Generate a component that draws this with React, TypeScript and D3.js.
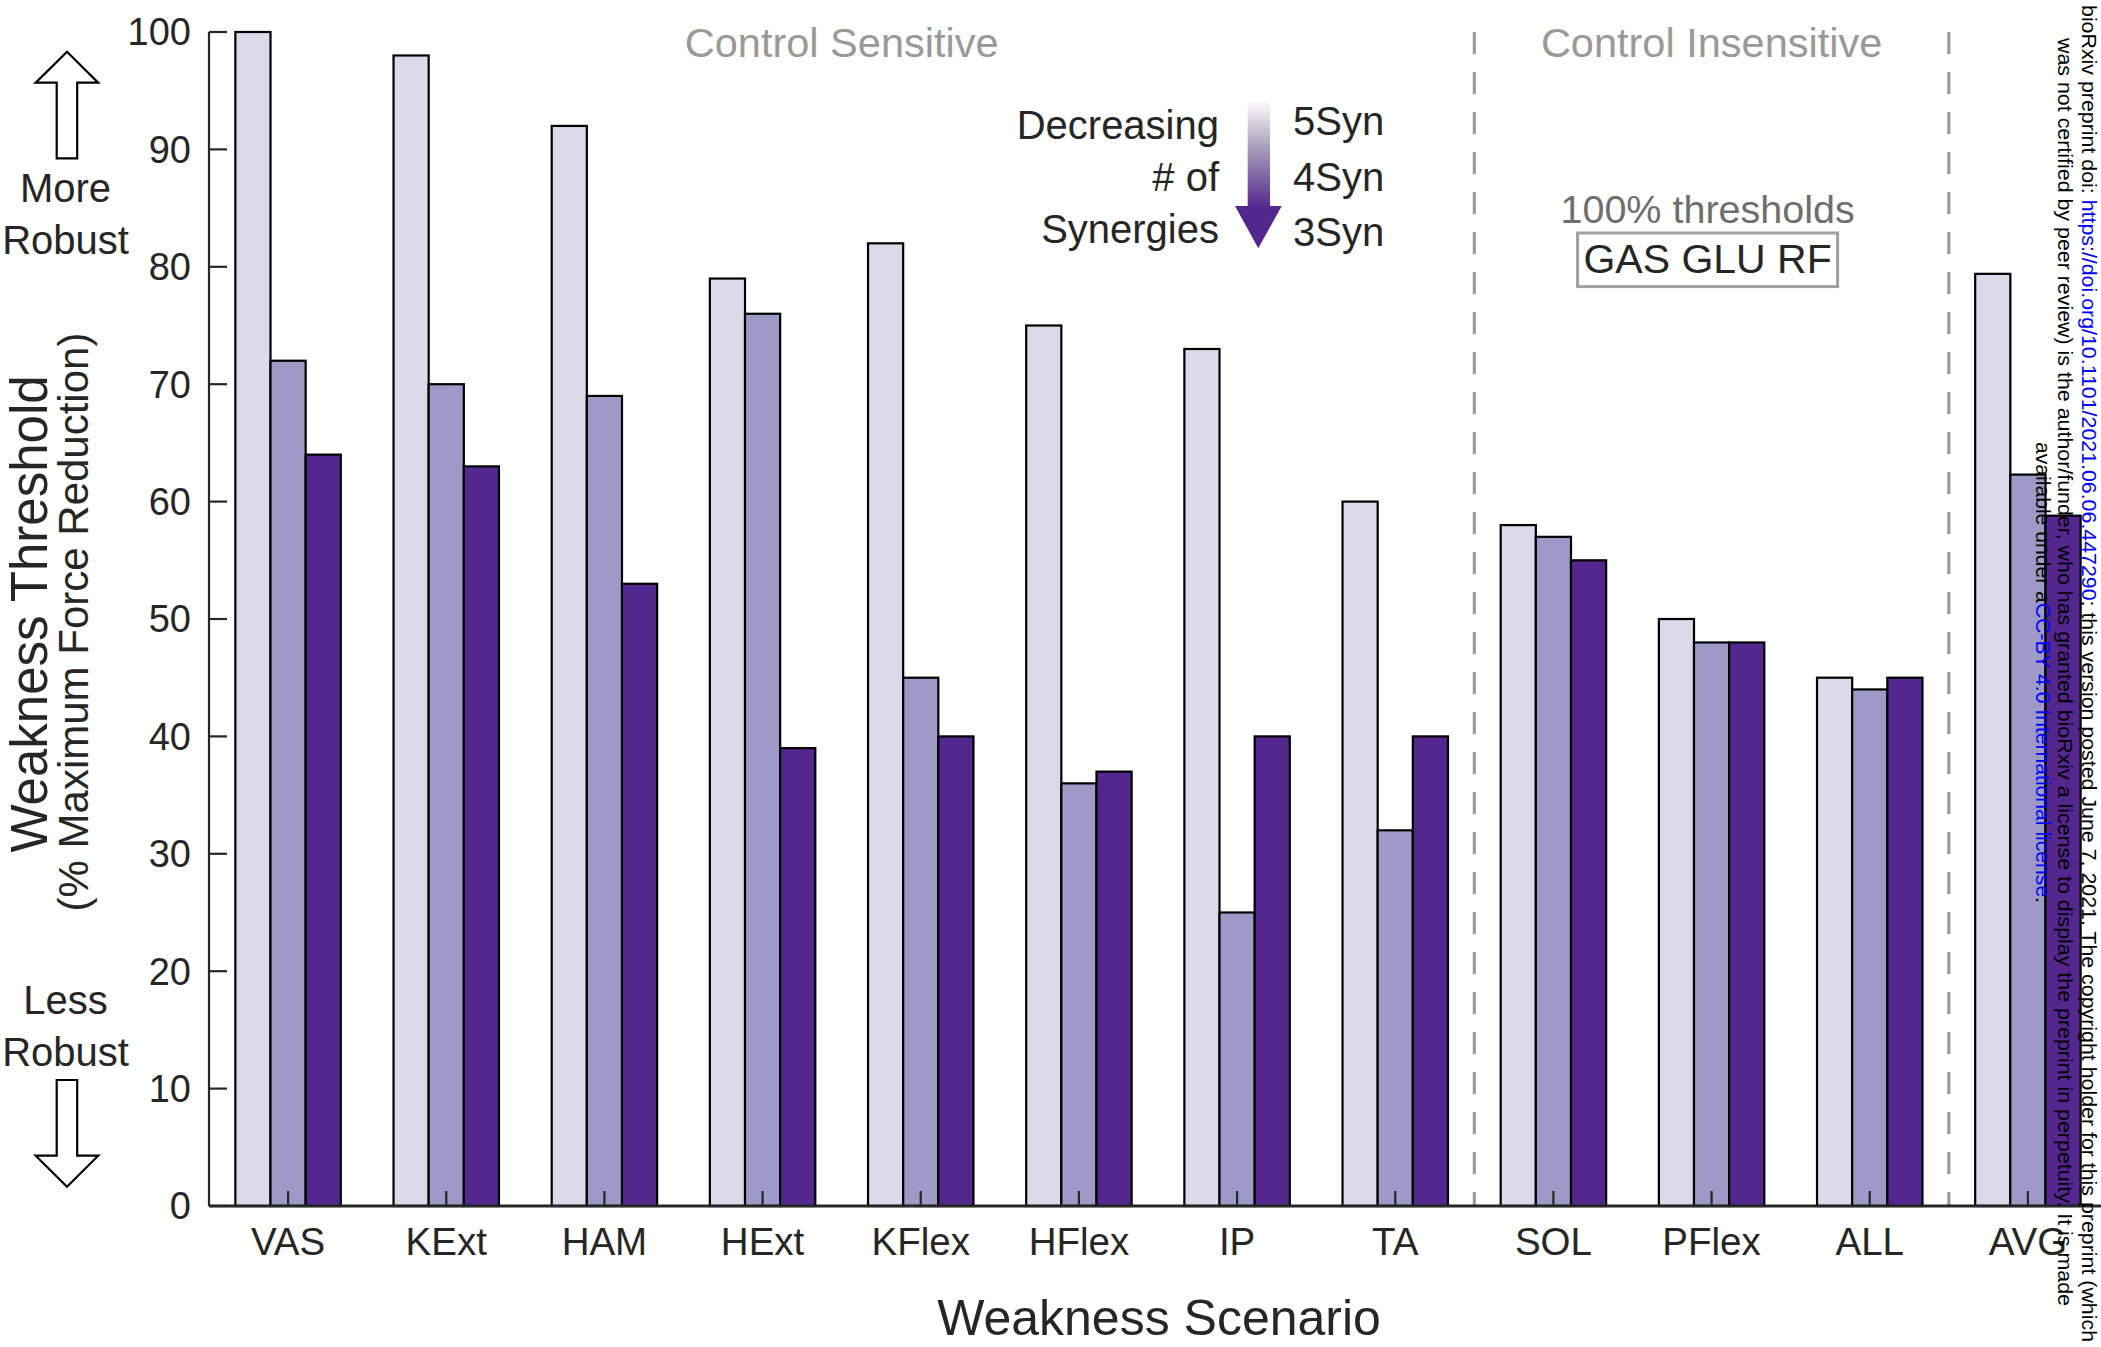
import React from "react";
import * as d3 from "d3";

const categories = ["VAS", "KExt", "HAM", "HExt", "KFlex", "HFlex", "IP", "TA", "SOL", "PFlex", "ALL", "AVG"];
const seriesNames = ["5Syn", "4Syn", "3Syn"];
const syn5 = [100, 98, 92, 79, 82, 75, 73, 60, 58, 50, 45, 79.4];
const syn4 = [72, 70, 69, 76, 45, 36, 25, 32, 57, 48, 44, 62.3];
const syn3 = [64, 63, 53, 39, 40, 37, 40, 40, 55, 48, 45, 58.8];
const yTicks = [0, 10, 20, 30, 40, 50, 60, 70, 80, 90, 100];
const seriesColors = ["#dadaeb", "#9e9ac8", "#54278f"];
const groupLabels = ["Control Sensitive", "Control Insensitive"];
const legendLeft = ["Decreasing", "# of", "Synergies"];
const wm1 = ["bioRxiv preprint doi: ", "https://doi.org/10.1101/2021.06.06.447290", "; this version posted June 7, 2021. The copyright holder for this preprint (which"];
const wm2 = "was not certified by peer review) is the author/funder, who has granted bioRxiv a license to display the preprint in perpetuity. It is made";
const wm3 = ["available under a", "CC-BY 4.0 International license", "."];

const W = 2101;
const H = 1347;
const FONT = "'Liberation Sans', Arial, Helvetica, sans-serif";
const TXT = "#262626";

export default function App() {
  const left = 209;
  const right = 2107;
  const top = 32;
  const bottom = 1206;

  const x = d3.scaleBand<string>().domain(categories).range([left, right]).padding(0);
  const y = d3.scaleLinear().domain([0, 100]).range([bottom, top]);
  const step = x.step();
  const groupW = step * (2 / 3);
  const inner = d3.scaleBand<string>().domain(seriesNames).range([-groupW / 2, groupW / 2]).padding(0);
  const values = [syn5, syn4, syn3];

  const cx = (c: string) => (x(c) as number) + step / 2;
  const dash1 = x("SOL") as number;
  const dash2 = x("AVG") as number;
  const sensCenter = (left + dash1) / 2;
  const insensCenter = (dash1 + dash2) / 2;

  return (
    <svg width={W} height={H} style={{ position: "absolute", left: 0, top: 0, background: "#fff" }} fontFamily={FONT}>
      <defs>
        <linearGradient id="shaftGrad" gradientUnits="userSpaceOnUse" x1="0" y1="100" x2="0" y2="208">
          <stop offset="0" stopColor="#ffffff" />
          <stop offset="0.45" stopColor="#a89cb8" />
          <stop offset="1" stopColor="#54278f" />
        </linearGradient>
      </defs>
      <rect x={0} y={0} width={W} height={H} fill="#fff" />

      {/* dashed separators */}
      {[dash1, dash2].map((dx, i) => (
        <line key={i} x1={dx} x2={dx} y1={y(100)} y2={y(0)} stroke="#9a9a9a" strokeWidth={3.2} strokeDasharray="22 18" />
      ))}

      {/* bars */}
      {categories.map((c, ci) =>
        seriesNames.map((s, si) => {
          const v = values[si][ci];
          return (
            <rect
              key={c + s}
              x={cx(c) + (inner(s) as number)}
              y={y(v)}
              width={inner.bandwidth()}
              height={y(0) - y(v)}
              fill={seriesColors[si]}
              stroke="#000"
              strokeWidth={2.2}
            />
          );
        })
      )}

      {/* axes */}
      <line x1={left} x2={left} y1={y(100)} y2={y(0)} stroke={TXT} strokeWidth={2.2} />
      <line x1={left} x2={W + 10} y1={y(0)} y2={y(0)} stroke={TXT} strokeWidth={3} />
      {yTicks.map((t) => (
        <g key={t}>
          <line x1={left} x2={left + 18} y1={y(t)} y2={y(t)} stroke={TXT} strokeWidth={2.2} />
          <text x={left - 18} y={y(t)} dy="0.35em" textAnchor="end" fontSize={38} fill={TXT}>
            {t}
          </text>
        </g>
      ))}
      {categories.map((c) => (
        <g key={c}>
          <line x1={cx(c)} x2={cx(c)} y1={y(0)} y2={y(0) - 15} stroke={TXT} strokeWidth={2.2} />
          <text x={cx(c)} y={1255} textAnchor="middle" fontSize={38.5} fill={TXT}>
            {c}
          </text>
        </g>
      ))}

      {/* axis titles */}
      <text x={1159} y={1335} textAnchor="middle" fontSize={50} fill={TXT}>
        Weakness Scenario
      </text>
      <text transform="translate(46.5,614) rotate(-90)" textAnchor="middle" fontSize={51} fill={TXT}>
        Weakness Threshold
      </text>
      <text transform="translate(88,622) rotate(-90)" textAnchor="middle" fontSize={42} fill={TXT}>
        (% Maximum Force Reduction)
      </text>

      {/* robustness arrows */}
      <path d="M67,51.7 L98.2,82.7 L77.2,82.7 L77.2,158.3 L56.7,158.3 L56.7,82.7 L35.7,82.7 Z" fill="#fff" stroke="#000" strokeWidth={2.2} />
      <text x={65.5} y={202} textAnchor="middle" fontSize={40} fill={TXT}>More</text>
      <text x={65.5} y={254} textAnchor="middle" fontSize={40} fill={TXT}>Robust</text>
      <text x={65.5} y={1014} textAnchor="middle" fontSize={40} fill={TXT}>Less</text>
      <text x={65.5} y={1066} textAnchor="middle" fontSize={40} fill={TXT}>Robust</text>
      <path d="M67,1186.7 L98.2,1155.7 L77.2,1155.7 L77.2,1080 L56.7,1080 L56.7,1155.7 L35.7,1155.7 Z" fill="#fff" stroke="#000" strokeWidth={2.2} />

      {/* region labels */}
      <text x={sensCenter} y={56.7} textAnchor="middle" fontSize={41.5} fill="#999999">{groupLabels[0]}</text>
      <text x={insensCenter} y={57} textAnchor="middle" fontSize={41.5} fill="#999999">{groupLabels[1]}</text>
      <text x={insensCenter - 4} y={223} textAnchor="middle" fontSize={39.5} fill="#6e6e6e">100% thresholds</text>
      <rect x={insensCenter - 4 - 130} y={233} width={260} height={53.6} fill="none" stroke="#a0a0a0" strokeWidth={3} />
      <text x={insensCenter - 4} y={273} textAnchor="middle" fontSize={41} fill={TXT}>GAS GLU RF</text>

      {/* legend */}
      {legendLeft.map((t, i) => (
        <text key={t} x={1219} y={139 + i * 52} textAnchor="end" fontSize={40} fill={TXT}>{t}</text>
      ))}
      {seriesNames.map((s, i) => (
        <text key={s} x={1293} y={135 + i * 55.5} textAnchor="start" fontSize={40} fill={TXT}>{s}</text>
      ))}
      <rect x={1247.7} y={100} width={22.3} height={107} fill="url(#shaftGrad)" />
      <path d="M1235,206 L1281.7,206 L1258.3,248.3 Z" fill="#54278f" />

      {/* watermark */}
      <text transform="translate(2082,673.5) rotate(90)" textAnchor="middle" fontSize={20} fill="#000" textLength={1337} lengthAdjust="spacingAndGlyphs">
        <tspan>{wm1[0]}</tspan>
        <tspan fill="#0000ff">{wm1[1]}</tspan>
        <tspan>{wm1[2]}</tspan>
      </text>
      <text transform="translate(2058,672) rotate(90)" textAnchor="middle" fontSize={20} fill="#000" textLength={1268} lengthAdjust="spacingAndGlyphs">
        {wm2}
      </text>
      <text transform="translate(2036,672.5) rotate(90)" textAnchor="middle" fontSize={20} fill="#000" textLength={461} lengthAdjust="spacingAndGlyphs">
        <tspan>{wm3[0]}</tspan>
        <tspan fill="#0000ff">{wm3[1]}</tspan>
        <tspan>{wm3[2]}</tspan>
      </text>
    </svg>
  );
}
